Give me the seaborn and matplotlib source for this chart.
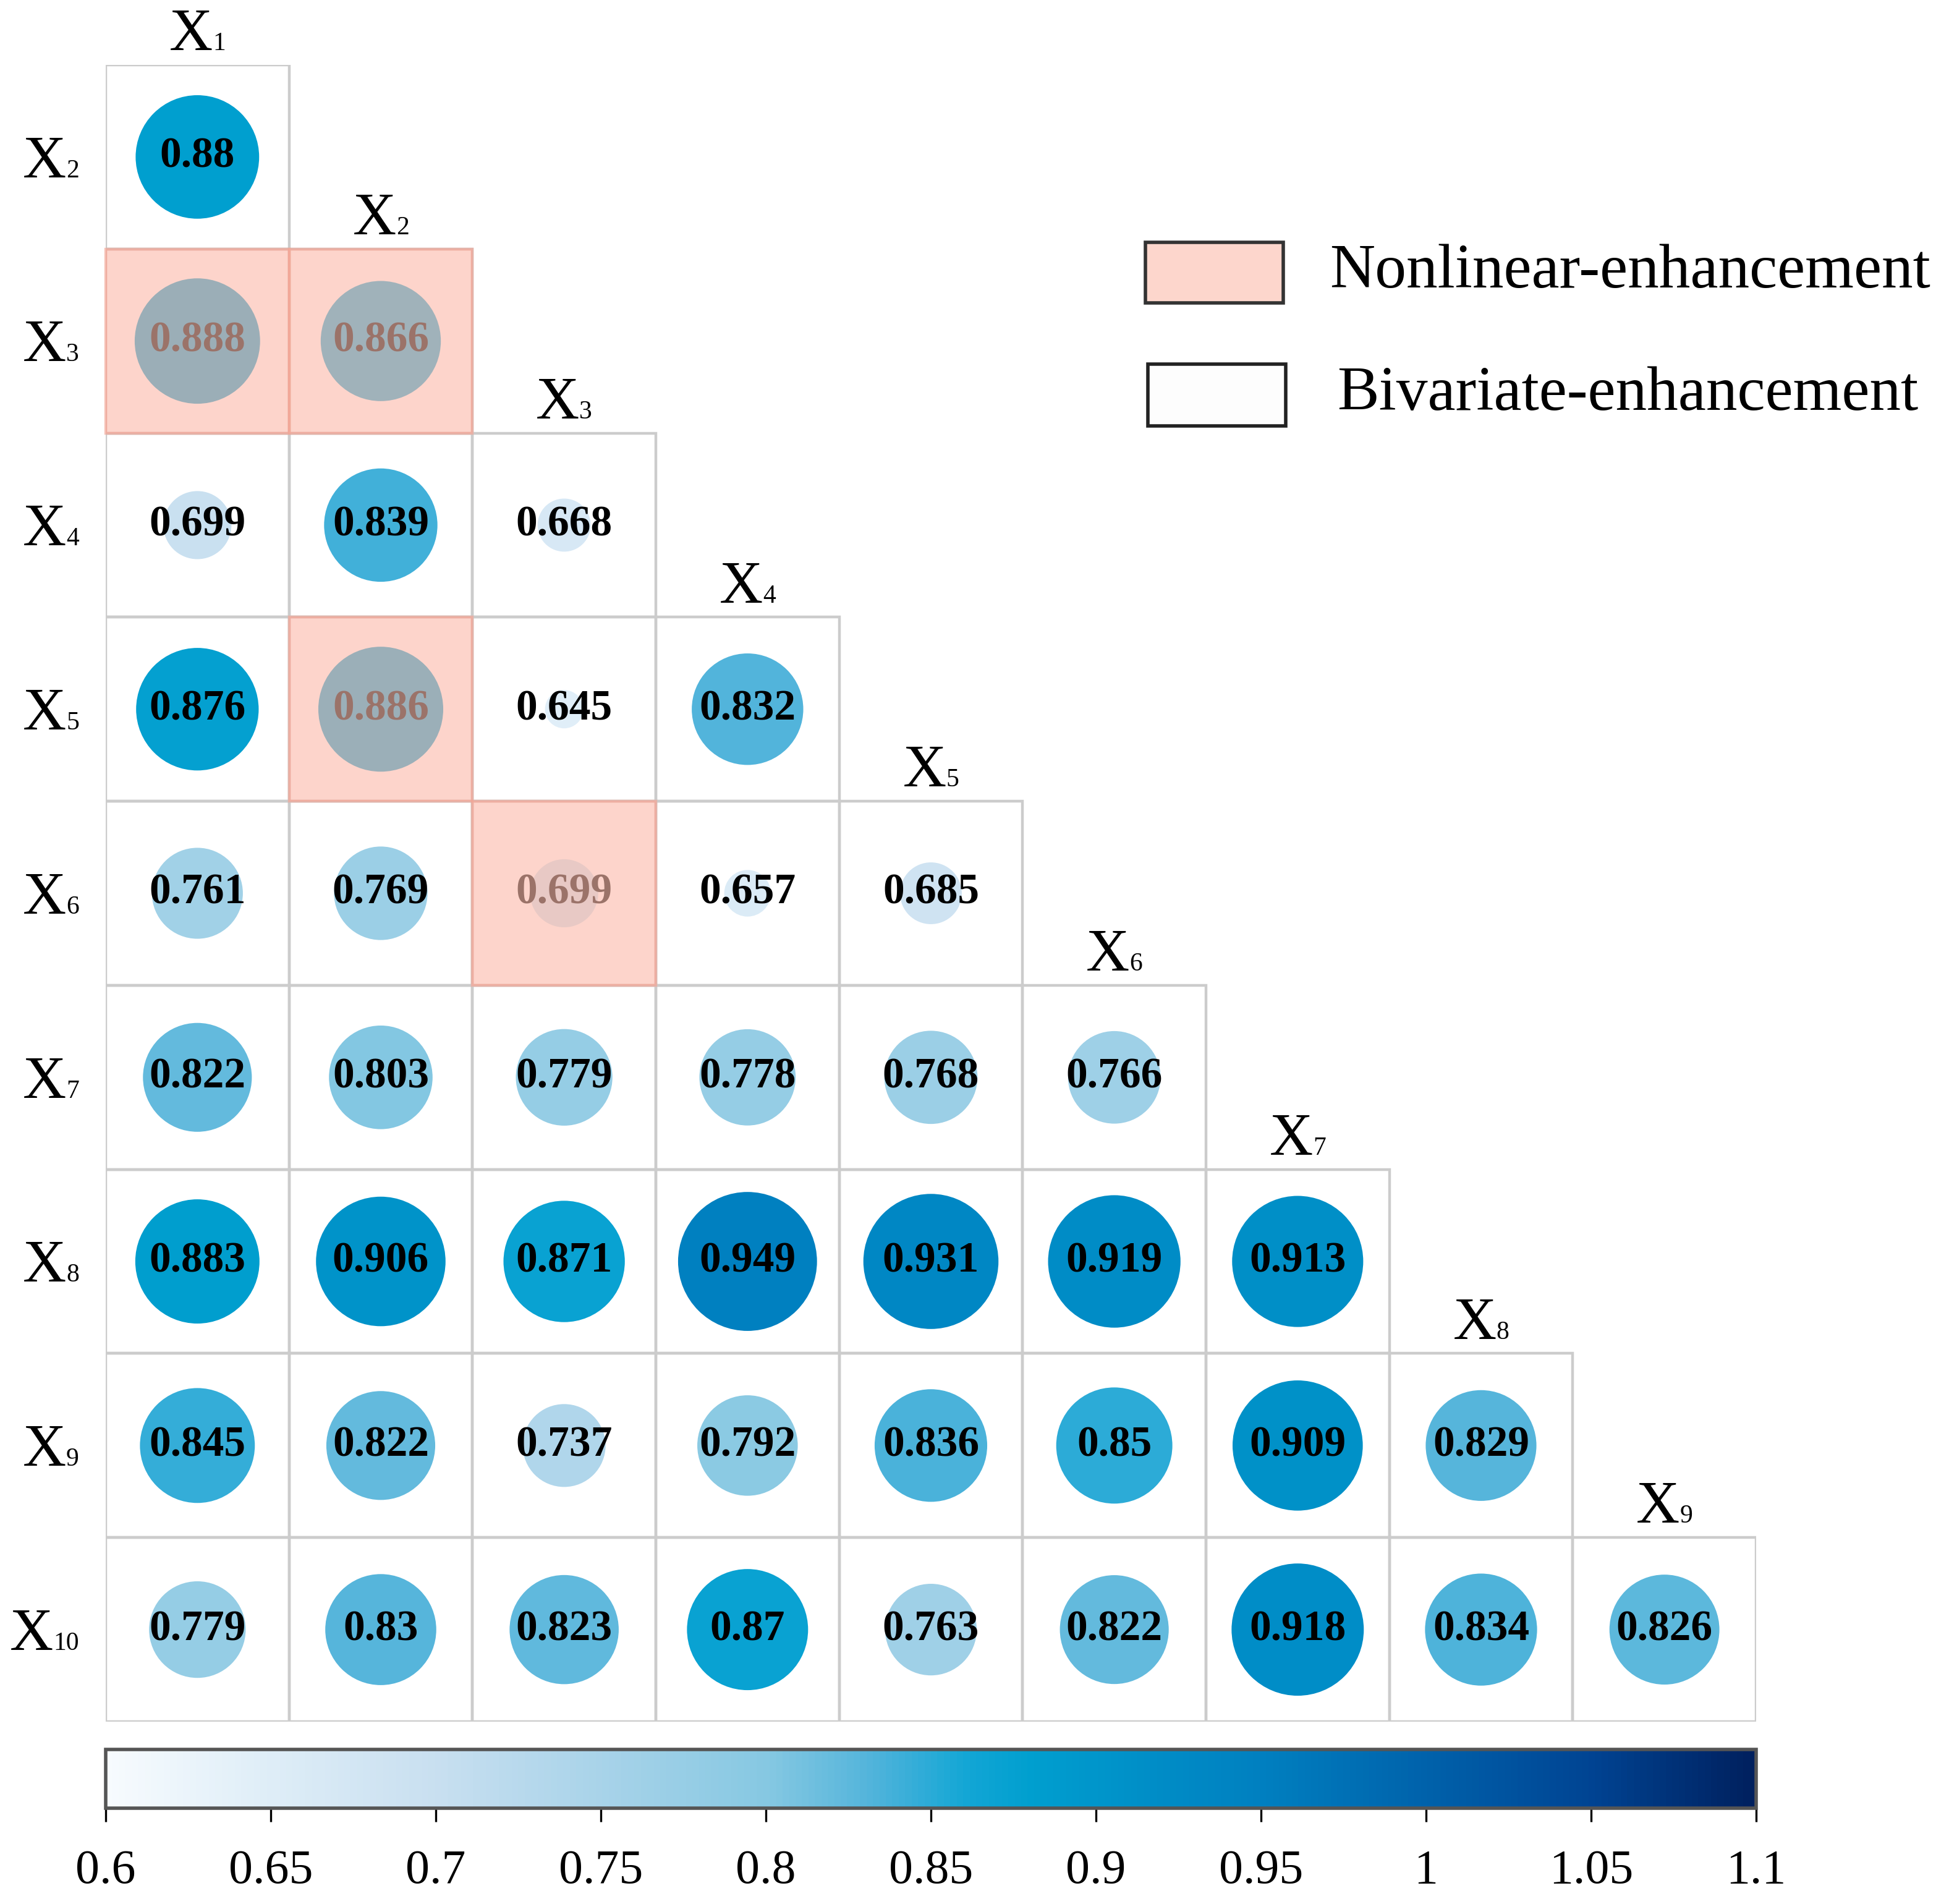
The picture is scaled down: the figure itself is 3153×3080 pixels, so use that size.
import numpy as np
import pandas as pd
import matplotlib
matplotlib.use("Agg")
import matplotlib.pyplot as plt
import seaborn as sns
from matplotlib.colors import LinearSegmentedColormap, Normalize
from matplotlib.patches import Rectangle
import matplotlib.cm as cm

# ---------------- data ----------------
row_vars = ["X2", "X3", "X4", "X5", "X6", "X7", "X8", "X9", "X10"]
col_vars = ["X1", "X2", "X3", "X4", "X5", "X6", "X7", "X8", "X9"]

v_X2 = [0.88]
v_X3 = [0.888, 0.866]
v_X4 = [0.699, 0.839, 0.668]
v_X5 = [0.876, 0.886, 0.645, 0.832]
v_X6 = [0.761, 0.769, 0.699, 0.657, 0.685]
v_X7 = [0.822, 0.803, 0.779, 0.778, 0.768, 0.766]
v_X8 = [0.883, 0.906, 0.871, 0.949, 0.931, 0.919, 0.913]
v_X9 = [0.845, 0.822, 0.737, 0.792, 0.836, 0.85, 0.909, 0.829]
v_X10 = [0.779, 0.83, 0.823, 0.87, 0.763, 0.822, 0.918, 0.834, 0.826]

nonlinear_pairs = [("X3", "X1"), ("X3", "X2"), ("X5", "X2"), ("X6", "X3")]

cbar_ticks = [0.6, 0.65, 0.7, 0.75, 0.8, 0.85, 0.9, 0.95, 1.0, 1.05, 1.1]
cbar_ticklabels = ["0.6", "0.65", "0.7", "0.75", "0.8", "0.85", "0.9", "0.95", "1", "1.05", "1.1"]

legend_labels = ["Nonlinear-enhancement", "Bivariate-enhancement"]

# ---------------- build table ----------------
rows_values = [v_X2, v_X3, v_X4, v_X5, v_X6, v_X7, v_X8, v_X9, v_X10]
records = []
for r, (rname, vals) in enumerate(zip(row_vars, rows_values)):
    for c, v in enumerate(vals):
        records.append({"row": rname, "col": col_vars[c], "r": r, "c": c,
                        "cx": c + 0.5, "ry": r + 0.5, "value": v,
                        "nonlinear": (rname, col_vars[c]) in nonlinear_pairs})
df = pd.DataFrame(records)

# ---------------- style ----------------
sns.set_theme(style="white")
plt.rcParams["font.family"] = ["Liberation Serif", "DejaVu Serif"]
plt.rcParams["text.color"] = "black"
plt.rcParams["xtick.color"] = "black"
plt.rcParams["xtick.labelcolor"] = "black"

cmap = LinearSegmentedColormap.from_list("blues_custom", [
    (0.00, "#f7fbfe"),
    (0.10, "#deedf7"),
    (0.20, "#c8dff0"),
    (0.30, "#a8d3e9"),
    (0.40, "#86c8e2"),
    (0.46, "#55b5db"),
    (0.52, "#14a6d5"),
    (0.56, "#009fcf"),
    (0.64, "#008cc6"),
    (0.70, "#0080c0"),
    (0.80, "#0062ab"),
    (0.90, "#004493"),
    (1.00, "#00205e"),
])
norm = Normalize(0.6, 1.1)

fig = plt.figure(figsize=(3153 / 200, 3080 / 200), dpi=200)
ax = fig.add_axes([0.05423, 0.09578, 0.84681, 0.87013])

# cell borders
for _, rec in df.iterrows():
    ax.add_patch(Rectangle((rec.c, rec.r), 1, 1, facecolor="none",
                           edgecolor="#cccccc", linewidth=1.6, zorder=1))

# circles
smax_per_unit = 19900.0
sns.scatterplot(data=df, x="cx", y="ry", hue="value", palette=cmap, hue_norm=norm,
                size="value", sizes=(0, smax_per_unit * (1.0 - 0.62)),
                size_norm=(0.62, 1.0), legend=False, linewidth=0,
                edgecolor="none", ax=ax, zorder=2, clip_on=False)
ax.set_xlim(0, 9)
ax.set_ylim(9, 0)
ax.axis("off")

# value labels
for _, rec in df.iterrows():
    ax.text(rec.cx, rec.ry, f"{rec.value:g}", ha="center", va="center",
            fontsize=25, fontweight="bold", color="black", zorder=4)

# nonlinear overlays
for _, rec in df[df.nonlinear].iterrows():
    ax.add_patch(Rectangle((rec.c, rec.r), 1, 1, facecolor="#fcbbab",
                           edgecolor="#f3a292", linewidth=1.6, alpha=0.62,
                           zorder=5, clip_on=False))

# variable labels: big "X" with small subscript on the same baseline
FS_X, FS_SUB = 35, 15
W_X = 0.722 * FS_X        # width of "X" in points
W_DIG = 0.5 * FS_SUB      # width of one subscript digit in points


def var_label(x, y, name, align):
    sub = name[1:]
    wsub = W_DIG * len(sub)
    if align == "right":
        ax.annotate(sub, xy=(x, y), xytext=(0, 0), textcoords="offset points",
                    ha="right", va="baseline", fontsize=FS_SUB, color="black",
                    annotation_clip=False)
        ax.annotate("X", xy=(x, y), xytext=(-wsub, 0), textcoords="offset points",
                    ha="right", va="baseline", fontsize=FS_X, color="black",
                    annotation_clip=False)
    else:
        total = W_X + wsub
        ax.annotate("X", xy=(x, y), xytext=(-total / 2, 0), textcoords="offset points",
                    ha="left", va="baseline", fontsize=FS_X, color="black",
                    annotation_clip=False)
        ax.annotate(sub, xy=(x, y), xytext=(-total / 2 + W_X, 0), textcoords="offset points",
                    ha="left", va="baseline", fontsize=FS_SUB, color="black",
                    annotation_clip=False)


for r, name in enumerate(row_vars):
    var_label(-0.145, r + 0.5 + 0.11, name, "right")

for c, name in enumerate(col_vars):
    var_label(c + 0.5, c - 0.08, name, "center")

# ---------------- colorbar ----------------
cax = fig.add_axes([0.05423, 0.05032, 0.84681, 0.03084])
sm = cm.ScalarMappable(norm=norm, cmap=cmap)
cb = fig.colorbar(sm, cax=cax, orientation="horizontal", ticks=cbar_ticks)
cb.set_ticklabels(cbar_ticklabels)
cb.outline.set_edgecolor("#555555")
cb.outline.set_linewidth(2.0)
cax.tick_params(axis="x", direction="out", length=8, width=1.2, pad=16,
                labelsize=28, colors="black", labelcolor="black", bottom=True)

# ---------------- legend ----------------
fig.patches.append(Rectangle((0.5877, 0.8409), 0.0707, 0.0318, transform=fig.transFigure,
                             facecolor="#fdd6cc", edgecolor="#333333", linewidth=2.0))
fig.text(0.6822, 0.8568, legend_labels[0], ha="left", va="center", fontsize=36.5,
         color="black")
fig.patches.append(Rectangle((0.5890, 0.7763), 0.0707, 0.0325, transform=fig.transFigure,
                             facecolor="#fdfdfd", edgecolor="#222222", linewidth=2.0))
fig.text(0.6860, 0.7925, legend_labels[1], ha="left", va="center", fontsize=36.5,
         color="black")

fig.savefig("out.png", dpi=200, facecolor="white")
